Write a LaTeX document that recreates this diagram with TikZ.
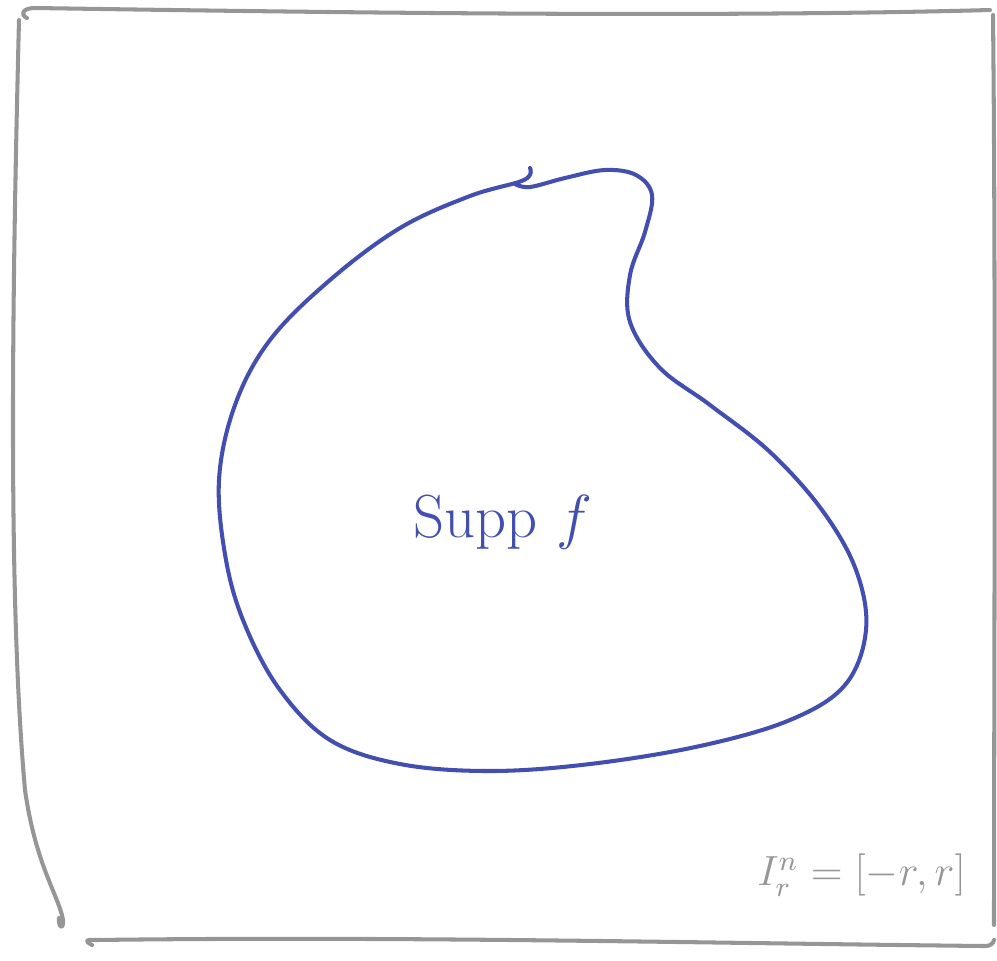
\documentclass[tikz,border=0pt]{standalone}
\usepackage{tikz}
\usepackage{amsmath}
\definecolor{inkblue}{RGB}{66,78,176}
\definecolor{inkgray}{RGB}{150,150,150}

\begin{document}
\begin{tikzpicture}[
    x=0.01cm, y=-0.01cm,
    frame/.style={draw=inkgray, line width=1.15pt, line cap=round, line join=round},
    blob/.style={draw=inkblue, line width=1.15pt, line cap=round, line join=round},
    suppnote/.style={text=inkblue, font=\LARGE},
    cubenote/.style={text=inkgray, font=\large},
]
    \useasboundingbox (0,0) rectangle (997,960);

    % Hand-drawn square I_r^n
    \draw[frame] (27,18) .. controls (20,15) and (22,8) .. (35,8)
        .. controls (300,12) and (700,18) .. (990,10);
    \draw[frame] (19,20) .. controls (12,300) and (8,600) .. (25,790)
        .. controls (35,860) and (55,890) .. (62,915)
        .. controls (66,930) and (58,930) .. (59,918);
    \draw[frame] (993,15) .. controls (996,300) and (994,700) .. (994,925);
    \draw[frame] (92,945) .. controls (84,941) and (86,939) .. (95,940)
        .. controls (400,936) and (700,943) .. (985,946)
        .. controls (990,946) and (993,944) .. (994,940);

    % Support of f
    \draw[blob] plot[smooth, tension=0.6] coordinates {
        (530,168) (524,180) (470,196) (400,228) (330,280) (270,340)
        (235,405) (219,480) (226,560) (245,625) (280,690) (330,740)
        (400,764) (490,771) (590,764) (700,746) (790,720) (845,685)
        (866,630) (856,570) (822,510) (770,452) (710,405) (660,368)
        (630,322) (630,275) (645,232) (652,195) (636,175) (605,170)
        (565,178) (530,187) (515,184)};

    % Labels
    \node[suppnote] (supp) at (503,522) {Supp $f$};
    \node[cubenote, anchor=west] (cube) at (745,875) {$I^{n}_{r} = [-r,r]$};
\end{tikzpicture}
\end{document}
